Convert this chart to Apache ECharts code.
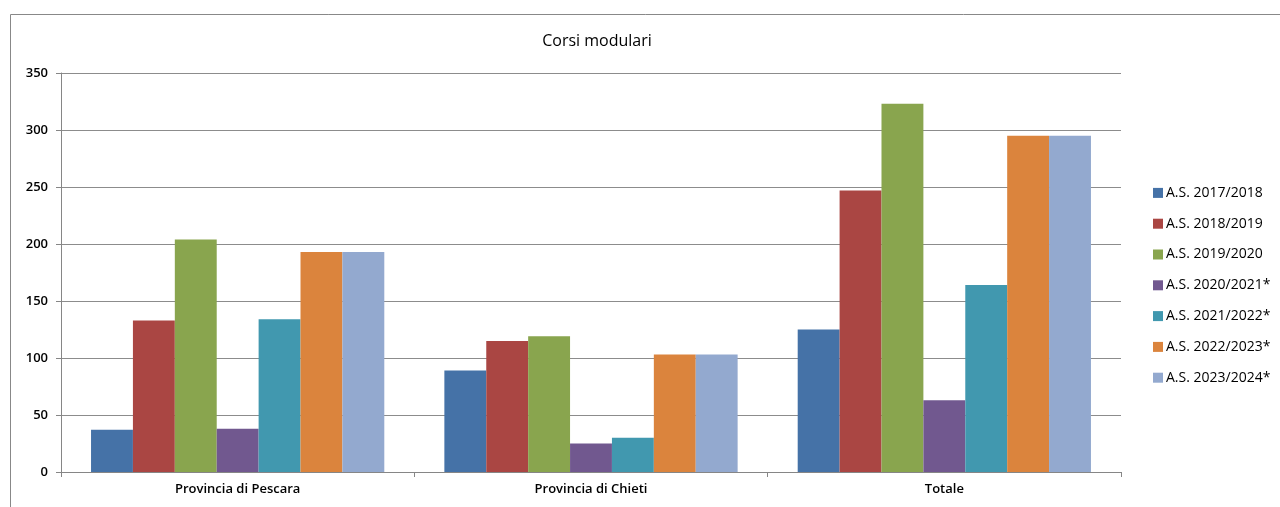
<!DOCTYPE html>
<html><head><meta charset="utf-8">
<script src="https://cdn.jsdelivr.net/npm/echarts@6/dist/echarts.min.js"></script>
<style>html,body{margin:0;padding:0;background:#fff}#c{width:1280px;height:507px}</style>
</head><body><div id="c"></div>
<script>
const categories = ['Provincia di Pescara', 'Provincia di Chieti', 'Totale'];
const seriesNames = ['A.S. 2017/2018','A.S. 2018/2019','A.S. 2019/2020','A.S. 2020/2021*','A.S. 2021/2022*','A.S. 2022/2023*','A.S. 2023/2024*'];
const as2017 = [37, 89, 125];
const as2018 = [133, 115, 247];
const as2019 = [204, 119, 323];
const as2020 = [38, 25, 63];
const as2021 = [134, 30, 164];
const as2022 = [193, 103, 295];
const as2023 = [193, 103, 295];
const colors = ['#4572A7','#AA4643','#89A54E','#71588F','#4198AF','#DB843D','#93A9CF'];
const values = [as2017, as2018, as2019, as2020, as2021, as2022, as2023];
const font = '"Open Sans", "Noto Sans", sans-serif';
const chart = echarts.init(document.getElementById('c'), null, {renderer:'canvas'});
chart.setOption({
  animation:false,
  color: colors,
  graphic:[{type:'rect', shape:{x:10.5,y:14.5,width:1400,height:700}, style:{fill:'none', stroke:'#888', lineWidth:1}, z:-1}],
  title:{text:'Corsi modulari', left:592, top:28, textAlign:'center',
    textStyle:{fontFamily:font, fontSize:16, fontWeight:'normal', color:'#000'}},
  legend:{orient:'vertical', left:1148, top:179, itemWidth:10, itemHeight:10, itemGap:13,
    icon:'rect', textStyle:{fontFamily:font, fontSize:14, color:'#000', lineHeight:17.8, padding:[0,0,0,-2]}},
  grid:{left:61, right:159, top:73, bottom:35},
  xAxis:{type:'category', data:categories,
    axisLine:{lineStyle:{color:'#868686'}},
    axisTick:{show:true, length:5, lineStyle:{color:'#868686'}},
    axisLabel:{fontFamily:font, fontSize:13, fontWeight:600, color:'#000', margin:11}},
  yAxis:{type:'value', min:0, max:350, interval:50,
    axisLine:{show:true, lineStyle:{color:'#868686'}},
    axisTick:{show:true, length:5, lineStyle:{color:'#868686'}},
    splitLine:{lineStyle:{color:'#8c8c8c'}},
    axisLabel:{fontFamily:font, fontSize:13, fontWeight:600, color:'#000', margin:13}},
  series: seriesNames.map((n,i)=>({name:n, type:'bar', data:values[i], barGap:'0%', barCategoryGap:'17%'}))
});
</script></body></html>
